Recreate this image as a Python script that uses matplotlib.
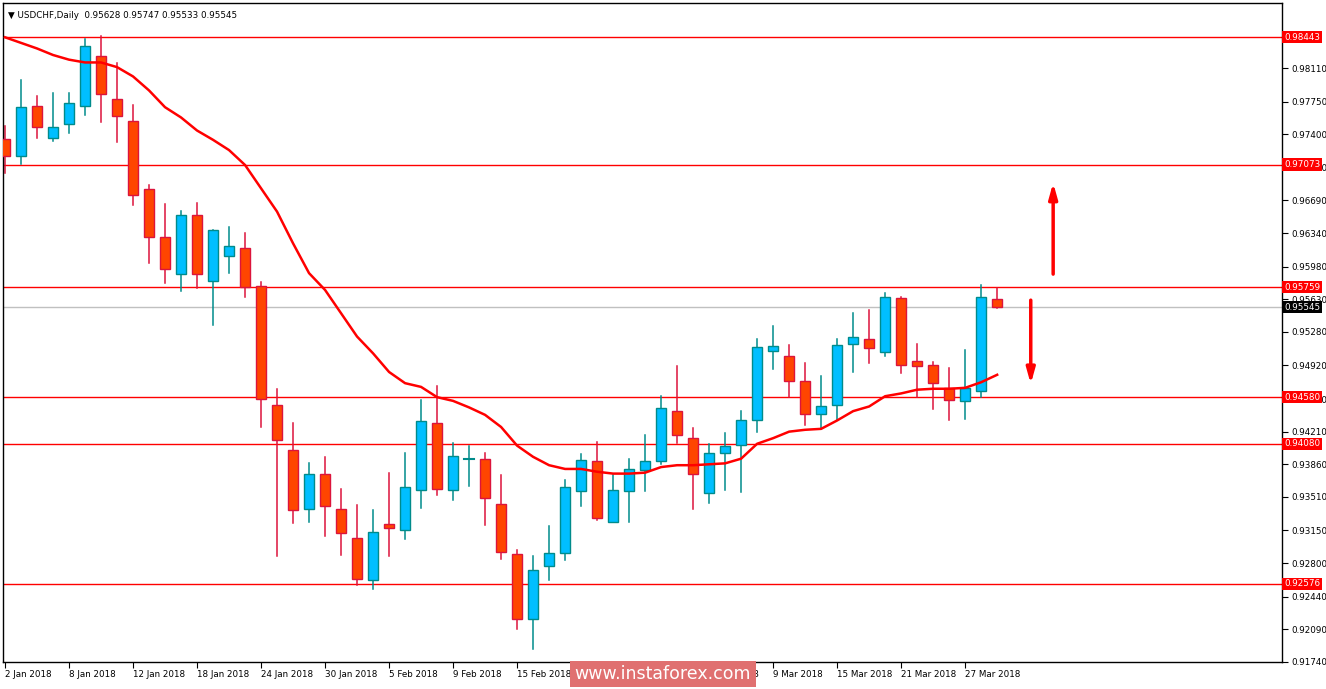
import matplotlib
matplotlib.use("Agg")
import matplotlib.pyplot as plt
from matplotlib.patches import Rectangle

opens = [0.9735,0.9717,0.9770,0.9736,0.9751,0.9770,0.9824,0.9778,0.9754,0.9681,
         0.9630,0.9590,0.9653,0.9583,0.9609,0.9618,0.9577,0.9450,0.9401,0.9338,
         0.9376,0.9338,0.9307,0.9262,0.9322,0.9316,0.9358,0.9430,0.9358,0.9392,
         0.9392,0.9343,0.9290,0.9220,0.9277,0.9291,0.9357,0.9390,0.9324,0.9357,
         0.9380,0.9390,0.9443,0.9414,0.9355,0.9398,0.9407,0.9434,0.9508,0.9502,
         0.9475,0.9440,0.9450,0.9515,0.9520,0.9506,0.9564,0.9497,0.9492,0.9468,
         0.9454,0.9465,0.95628]
highs = [0.9749,0.9798,0.9781,0.9784,0.9784,0.9842,0.9845,0.9816,0.9771,0.9686,
         0.9665,0.9658,0.9666,0.9637,0.9640,0.9634,0.9582,0.9467,0.9430,0.9387,
         0.9394,0.9359,0.9342,0.9337,0.9377,0.9398,0.9455,0.9470,0.9409,0.9406,
         0.9398,0.9374,0.9294,0.9288,0.9320,0.9369,0.9397,0.9410,0.9374,0.9392,
         0.9417,0.9459,0.9491,0.9425,0.9408,0.9420,0.9443,0.9520,0.9534,0.9514,
         0.9495,0.9481,0.9520,0.9548,0.9551,0.9570,0.9565,0.9515,0.9496,0.9489,
         0.9509,0.9578,0.95747]
lows = [0.9698,0.9708,0.9736,0.9733,0.9741,0.9761,0.9753,0.9732,0.9664,0.9602,
        0.9580,0.9572,0.9575,0.9535,0.9591,0.9565,0.9426,0.9288,0.9323,0.9324,
        0.9309,0.9289,0.9257,0.9252,0.9288,0.9306,0.9339,0.9353,0.9348,0.9363,
        0.9321,0.9284,0.9209,0.9188,0.9262,0.9283,0.9341,0.9326,0.9324,0.9324,
        0.9357,0.9386,0.9409,0.9338,0.9344,0.9358,0.9356,0.9421,0.9488,0.9458,
        0.9428,0.9425,0.9433,0.9485,0.9495,0.9502,0.9484,0.9458,0.9445,0.9433,
        0.9435,0.9458,0.95533]
closes = [0.9717,0.9769,0.9748,0.9748,0.9774,0.9835,0.9783,0.9760,0.9675,0.9630,
          0.9595,0.9653,0.9590,0.9637,0.9620,0.9576,0.9456,0.9412,0.9337,0.9376,
          0.9341,0.9312,0.9263,0.9313,0.9318,0.9362,0.9432,0.9359,0.9395,0.9392,
          0.9350,0.9292,0.9220,0.9273,0.9291,0.9362,0.9391,0.9328,0.9358,0.9381,
          0.9390,0.9446,0.9417,0.9376,0.9398,0.9406,0.9434,0.9512,0.9513,0.9475,
          0.9440,0.9448,0.9514,0.9523,0.9511,0.9565,0.9492,0.9491,0.9473,0.9455,
          0.9468,0.9565,0.95545]
ma = [0.9844,0.9838,0.9832,0.9825,0.9820,0.9817,0.9817,0.9812,0.9802,0.9787,
      0.9769,0.9758,0.9744,0.9734,0.9723,0.9707,0.9682,0.9657,0.9623,0.9591,
      0.9573,0.9548,0.9523,0.9505,0.9485,0.9473,0.9469,0.9458,0.9454,0.9447,
      0.9439,0.9426,0.9406,0.9394,0.9385,0.9381,0.9381,0.9378,0.9376,0.9376,
      0.9377,0.9383,0.9385,0.9385,0.9386,0.9387,0.9392,0.9408,0.9414,0.9421,
      0.9423,0.9424,0.9433,0.9443,0.9448,0.9459,0.9462,0.9466,0.9467,0.9467,
      0.9468,0.9474,0.9482]
date_labels = ["2 Jan 2018","8 Jan 2018","12 Jan 2018","18 Jan 2018","24 Jan 2018",
               "30 Jan 2018","5 Feb 2018","9 Feb 2018","15 Feb 2018","21 Feb 2018",
               "27 Feb 2018","5 Mar 2018","9 Mar 2018","15 Mar 2018","21 Mar 2018",
               "27 Mar 2018"]
date_idx = [0,4,8,12,16,20,24,28,32,36,40,44,48,52,56,60]
level_lines = [0.98443,0.97073,0.95759,0.94580,0.94080,0.92576]
level_labels = ["0.98443","0.97073","0.95759","0.94580","0.94080","0.92576"]
last_price = 0.95545
y_ticks = [0.98110,0.97750,0.97400,0.97040,0.96690,0.96340,0.95980,0.95630,0.95280,
           0.94920,0.94560,0.94210,0.93860,0.93510,0.93150,0.92800,0.92440,0.92090,0.91740]
arrow_up = (65.5, 0.9587, 0.9691)
arrow_down = (64.1, 0.9565, 0.9469)

W, H = 1326, 689
fig = plt.figure(figsize=(W/100, H/100), dpi=100)
ax = fig.add_axes([3/W, 1-662/H, (1282-3)/W, (662-3)/H])
ymin = 0.98443 - 0.00010726*(662-37)
ymax = 0.98443 + 0.00010726*(37-3)
ax.set_ylim(ymin, ymax)
ax.set_xlim(-0.125, 79.8)

bw = 0.62
for i in range(len(opens)):
    o, h, l, c = opens[i], highs[i], lows[i], closes[i]
    bull = c >= o
    face = "#00BFFF" if bull else "#FF4500"
    edge = "#008B8B" if bull else "#DC143C"
    ax.plot([i, i], [l, h], color=edge, lw=1.1, zorder=2)
    lo, hi = min(o, c), max(o, c)
    if hi - lo < 0.00005:
        ax.plot([i-bw/2, i+bw/2], [o, o], color=edge, lw=1.5, zorder=3)
    else:
        ax.add_patch(Rectangle((i-bw/2, lo), bw, hi-lo, facecolor=face, edgecolor=edge, lw=1.0, zorder=3))

ax.plot(range(len(ma)), ma, color="#FF0000", lw=1.8, zorder=4)

for lv in level_lines:
    ax.axhline(lv, color="#FF0000", lw=1.0, zorder=1)
ax.axhline(last_price, color="#C0C0C0", lw=1.0, zorder=1)

for x, y0, y1 in [arrow_up, arrow_down]:
    ax.annotate("", xy=(x, y1), xytext=(x, y0),
                arrowprops=dict(arrowstyle="-|>,head_length=0.9,head_width=0.25", color="#FF0000", lw=2.5))

fs = 6.3
ax.yaxis.tick_right()
ax.set_yticks(y_ticks)
ax.set_yticklabels([f"{v:.5f}" for v in y_ticks], fontsize=fs)
ax.tick_params(axis="y", length=4, pad=3, width=0.8)
ax.set_xticks(date_idx)
ax.set_xticklabels(date_labels, fontsize=fs, ha="left")
ax.tick_params(axis="x", length=4, pad=2, width=0.8)
for s in ax.spines.values():
    s.set_linewidth(1.0)

for lv, lab in zip(level_lines, level_labels):
    ax.annotate(lab, xy=(1.0, lv), xycoords=("axes fraction", "data"), xytext=(1.5, 0),
                textcoords="offset points", va="center", ha="left", fontsize=fs, color="white",
                bbox=dict(boxstyle="square,pad=0.2", fc="#FF0000", ec="none"), zorder=10,
                annotation_clip=False)
ax.annotate(f"{last_price:.5f}", xy=(1.0, last_price), xycoords=("axes fraction", "data"), xytext=(1.5, 0),
            textcoords="offset points", va="center", ha="left", fontsize=fs, color="white",
            bbox=dict(boxstyle="square,pad=0.2", fc="#000000", ec="none"), zorder=10,
            annotation_clip=False)

ax.text(0.004, 0.988, "\u25BC USDCHF,Daily  0.95628 0.95747 0.95533 0.95545", transform=ax.transAxes,
        fontsize=fs, va="top", ha="left")

fig.text(663/W, 1-674/H, "www.instaforex.com", fontsize=12.5, color="white", ha="center", va="center",
         bbox=dict(boxstyle="square,pad=0.25", fc="#E07070", ec="none"), zorder=20)

fig.savefig("out.png", dpi=100)
